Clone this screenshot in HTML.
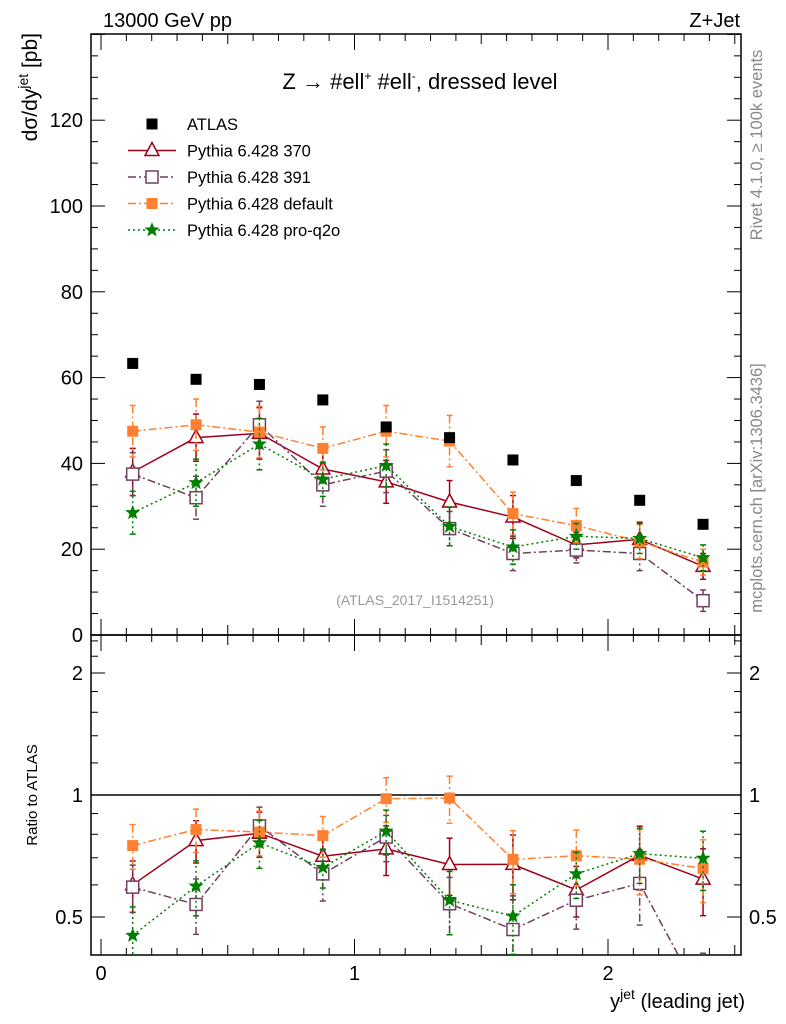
<!DOCTYPE html>
<html><head><meta charset="utf-8"><style>
body{margin:0;background:#fff}
svg{display:block;font-family:"Liberation Sans",sans-serif}
</style></head><body>
<svg id="c" width="786" height="1024" viewBox="0 0 786 1024"></svg>
<script>
const xCenters=[0.125,0.375,0.625,0.875,1.125,1.375,1.625,1.875,2.125,2.375];
const atlas=[63.3,59.6,58.4,54.8,48.5,46.0,40.8,36.0,31.4,25.8];
const p370=[38.0,46.0,47.0,38.7,35.7,31.0,27.5,21.0,22.3,16.0];
const p391=[37.5,32.0,49.0,35.0,38.2,24.8,19.0,19.8,19.0,8.0];
const pdef=[47.5,49.0,47.3,43.5,47.5,45.2,28.3,25.5,21.8,17.0];
const pq2o=[28.5,35.5,44.5,36.3,39.5,25.3,20.5,23.0,22.5,18.0];
const e370=[5.5,5.5,6,4,5,5,5,3,4,3];
const e391=[5,5,5.5,5,5,4,4,3,4,2.5];
const edef=[6,6,6,5,6,6,5,4,4,3];
const eq2o=[5,5.5,6,4,5,4.5,4,3,3.5,3];
const yTicksTop=[0,20,40,60,80,100,120];
const xTicks=[0,1,2];
const rTicks=[0.5,1,2];

const NS="http://www.w3.org/2000/svg";
const svg=document.getElementById('c');
function el(tag,attrs,parent){const e=document.createElementNS(NS,tag);for(const k in attrs)e.setAttribute(k,attrs[k]);(parent||svg).appendChild(e);return e;}
const L=91,R=741,T=34,M=635,B=955;
const X=v=>101+v*253.5;
const Y=v=>635-v*4.29;
const YR=r=>795-Math.log2(r)*122;

let f=el('rect',{x:L,y:T,width:R-L,height:M-T,fill:'none',stroke:'#000','stroke-width':1.5});

let f2=el('rect',{x:L,y:M,width:R-L,height:B-M,fill:'none',stroke:'#000','stroke-width':1.5});


for(let v=0;v<=140;v+=5){const y=Y(v);if(y<T)continue;const len=v%20==0?14:7;
 el('line',{x1:L,y1:y,x2:L+len,y2:y,stroke:'#000'});el('line',{x1:R,y1:y,x2:R-len,y2:y,stroke:'#000'});}
yTicksTop.forEach(v=>{const t=el('text',{x:L-8,y:Y(v)+7,'text-anchor':'end','font-size':20});t.textContent=v;
 });
for(let i=0;i<=25;i++){const v=i/10;const x=X(v);if(x>R)continue;const len=i%10==0?16:(i%5==0?10:7);
 [T,M].forEach(t=>el('line',{x1:x,y1:t,x2:x,y2:t+len,stroke:'#000'}));
 [M,B].forEach(b=>el('line',{x1:x,y1:b,x2:x,y2:b-len,stroke:'#000'}));}
xTicks.forEach(v=>{const t=el('text',{x:X(v),y:980,'text-anchor':'middle','font-size':20});t.textContent=v;
 });
[0.4,0.5,0.6,0.7,0.8,0.9,1,1.2,1.4,1.6,1.8,2,2.2,2.4].forEach(r=>{const y=YR(r);if(y<M||y>B)return;const len=rTicks.includes(r)?14:7;
 el('line',{x1:L,y1:y,x2:L+len,y2:y,stroke:'#000'});el('line',{x1:R,y1:y,x2:R-len,y2:y,stroke:'#000'});});
rTicks.forEach(r=>{[[L-8,'end'],[R+8,'start']].forEach(([x,a])=>{const t=el('text',{x:x,y:YR(r)+7,'text-anchor':a,'font-size':20});t.textContent=r;
 });});
el('line',{x1:L,y1:YR(1),x2:R,y2:YR(1),stroke:'#000','stroke-width':1.5});

const defs=el('defs',{});
const c1=el('clipPath',{id:'ct'},defs);el('rect',{x:L,y:T,width:R-L,height:M-T},c1);
const c2=el('clipPath',{id:'cr'},defs);el('rect',{x:L,y:M,width:R-L,height:B-M},c2);

const series=[
 {name:'series-370',vals:p370,err:e370,col:'#a00018',dash:'',mk:'tri'},
 {name:'series-391',vals:p391,err:e391,col:'#704060',dash:'8,3,2,3',mk:'sq'},
 {name:'series-default',vals:pdef,err:edef,col:'#ff8030',dash:'8,3,2,3',mk:'fsq'},
 {name:'series-pro-q2o',vals:pq2o,err:eq2o,col:'#008000',dash:'2,3',mk:'star'}];

function marker(g,mk,x,y,col){
 if(mk=='tri')el('polygon',{points:`${x},${y-8} ${x-7},${y+5} ${x+7},${y+5}`,fill:'#fff',stroke:col,'stroke-width':1.5},g);
 else if(mk=='sq')el('rect',{x:x-6,y:y-6,width:12,height:12,fill:'#fff',stroke:col,'stroke-width':1.5},g);
 else if(mk=='fsq')el('rect',{x:x-5.5,y:y-5.5,width:11,height:11,fill:col},g);
 else if(mk=='star'){let p=[];for(let i=0;i<10;i++){const a=-Math.PI/2+i*Math.PI/5,r=i%2?2.8:6.5;p.push((x+r*Math.cos(a))+','+(y+r*Math.sin(a)));}
  el('polygon',{points:p.join(' '),fill:col,stroke:col,'stroke-width':1},g);}
 else if(mk=='atl')el('rect',{x:x-5.5,y:y-5.5,width:11,height:11,fill:'#000'},g);
}
function drawPanel(clip,yf,getV,getE){
 series.forEach(s=>{
  const g=el('g',{'clip-path':`url(#${clip})`});
  
  const pts=xCenters.map((x,i)=>[X(x),yf(getV(s,i))]);
  el('polyline',{points:pts.map(p=>p.join(',')).join(' '),fill:'none',stroke:s.col,'stroke-width':1.5,'stroke-dasharray':s.dash},g);
  xCenters.forEach((x,i)=>{const v=getV(s,i),e=getE(s,i);const px=X(x);
   const y1=yf(v+e),y2=yf(Math.max(v-e,0.01));
   el('line',{x1:px,y1:y1,x2:px,y2:y2,stroke:s.col,'stroke-width':1.5,'stroke-dasharray':s.dash},g);
   el('line',{x1:px-3,y1:y1,x2:px+3,y2:y1,stroke:s.col,'stroke-width':1.5},g);
   el('line',{x1:px-3,y1:y2,x2:px+3,y2:y2,stroke:s.col,'stroke-width':1.5},g);
   marker(g,s.mk,px,yf(v),s.col);});
 });
}
drawPanel('ct',Y,(s,i)=>s.vals[i],(s,i)=>s.err[i]);
drawPanel('cr',YR,(s,i)=>s.vals[i]/atlas[i],(s,i)=>s.err[i]/atlas[i]);
const ga=el('g',{});
xCenters.forEach((x,i)=>marker(ga,'atl',X(x),Y(atlas[i]),'#000'));

const leg=[['ATLAS','atl','#000',''],['Pythia 6.428 370','tri','#a00018',''],['Pythia 6.428 391','sq','#704060','8,3,2,3'],['Pythia 6.428 default','fsq','#ff8030','8,3,2,3'],['Pythia 6.428 pro-q2o','star','#008000','2,3']];
leg.forEach((l,i)=>{const y=124+i*26.5;const g=el('g',{});
 
 if(i>0)el('line',{x1:128,y1:y,x2:176,y2:y,stroke:l[2],'stroke-width':1.5,'stroke-dasharray':l[3]},g);
 marker(g,l[1],152,y,l[2]);
 const t=el('text',{x:187,y:y+6,'font-size':16.5},g);t.textContent=l[0];});

function txt(x,y,s,attrs,name){const t=el('text',Object.assign({x:x,y:y},attrs));t.innerHTML=s;return t;}
txt(103,27,'13000 GeV pp',{'font-size':20},'energy-label');
txt(740,27,'Z+Jet',{'font-size':20,'text-anchor':'end'},'process-label');
txt(420,89,'Z → #ell<tspan dy="-9" font-size="12">+</tspan><tspan dy="9"> #ell</tspan><tspan dy="-9" font-size="12">-</tspan><tspan dy="9">, dressed level</tspan>',{'font-size':22,'text-anchor':'middle'},'plot-title');
txt(415,605,'(ATLAS_2017_I1514251)',{'font-size':14,fill:'#999','text-anchor':'middle'},'analysis-id');
txt(745,1008,'y<tspan dy="-9" font-size="14">jet</tspan><tspan dy="9"> (leading jet)</tspan>',{'font-size':20,'text-anchor':'end'},'x-axis-title');
txt(0,0,'dσ/dy<tspan dy="-9" font-size="14">jet</tspan><tspan dy="9"> [pb]</tspan>',{'font-size':21,'text-anchor':'end',transform:'translate(37,33) rotate(-90)'},'y-axis-title');
txt(0,0,'Ratio to ATLAS',{'font-size':15,'text-anchor':'middle',transform:'translate(37,795) rotate(-90)'},'ratio-axis-title');
txt(0,0,'Rivet 4.1.0, ≥ 100k events',{'font-size':16.5,fill:'#888','text-anchor':'middle',transform:'translate(762,145) rotate(-90)'},'rivet-label');
txt(0,0,'mcplots.cern.ch [arXiv:1306.3436]',{'font-size':16.5,fill:'#888','text-anchor':'middle',transform:'translate(762,488) rotate(-90)'},'mcplots-label');
</script>
</body></html>
